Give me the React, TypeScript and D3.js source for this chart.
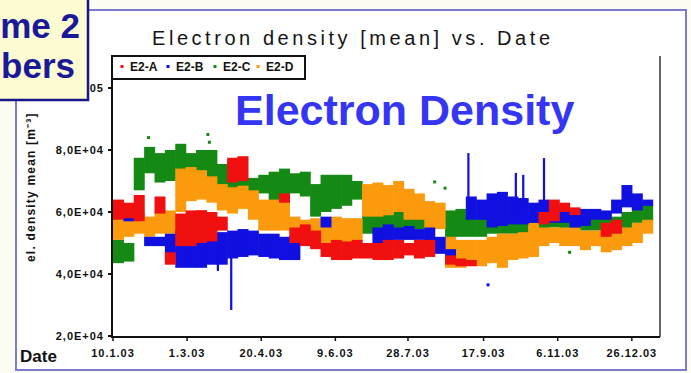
import React from "react";
import * as d3 from "d3";

// ---- data (electron density, thousands of m^-3 units shown as E+04) ----
const seriesNames = ["E2-A", "E2-B", "E2-C", "E2-D"];
const seriesColors = ["#f01010", "#1010e0", "#148a14", "#fb9a0c"];

const firstWeek = "2003-01-10";
const weekCount = 52;

// weekly min / max envelopes, one entry per week (null = no data)
const lowA = [57.5, 58, 57, null, 59.5, 43, 49, 49, 50, 50.5, 54, 69.5, 70, null, null, null, 63, 50, 49, 48, 45.5, 44.5, 44.5, 45, 45, 44.5, 44.5, 45, 46, 45, 45.5, null, 43, 42.5, 42.5, null, null, null, null, null, null, 56, 57, 60, 59, null, null, 52, 53, null, null, null];
const highA = [64, 63, 65.5, null, 65, 47, 59.5, 60.5, 60.6, 60, 58.5, 77.5, 78, null, null, null, 66, 55, 56, 54, 50, 51, 50.5, 51, 50, 50, 51, 51, 50, 51, 51, null, 46, 45, 44.5, null, null, null, null, null, null, 60, 64, 63, 61.5, null, null, 56.5, 57.5, null, null, null];

const lowB = [null, 57, null, 49, 49, 44.5, 42, 42, 42, 43, 43, 45, 45.5, 46, 45.5, 45, 44.5, 44.5, null, null, 55, null, null, null, null, 50, 50, 51, 51, 51, 47.5, 46.5, 45.5, null, 57.5, 57.5, 55, 55.5, 56, 56, 56.5, 57.5, 56.5, 56.5, 55, 55.5, 57.5, 57.5, 59.5, 61.5, 60.5, 62];
const highB = [null, 61, null, 52, 52, 53, 54, 53, 52, 53, 53.5, 54, 54.5, 54, 53, 53, 52, 52.5, null, null, 58.5, null, null, null, null, 55, 56, 55, 55.5, 54.5, 55, 52, 48, null, 65, 64, 66, 66.5, 65, 64.5, 63, 64, 62, 61, 61, 61, 61, 60.5, 64, 68.7, 66, 64];

const lowC = [43.5, 44, 67, 72.5, 69.5, 70, 71, 70, 71, 70, 66, 65.5, 66, 66, 66, 63, 64, 66, 65, 58.5, 60, 61, 62, 64, 53, 53, 53, 54, 54, 54.5, 55, 56, 51, 52, 52, 52, 53, 53, 53, 53, 53, 54, 55, 54, 54, 54, 54, 54, 53, 54, 56.5, 57];
const highC = [51, 50, 77.5, 81, 79, 80, 82, 79, 80, 80, 75.5, 76.5, 71, 71, 72, 73, 74, 72.5, 73, 69, 72, 72, 72, 70, 60, 60, 59, 60, 59, 59, 59, 60, 60.5, 61, 58.5, 59, 59, 59.5, 59, 59, 59.5, 58.5, 59, 57.5, 58, 60, 60.5, 60, 58.5, 60, 62, 62.5];

const lowD = [51, 52, 53, 52, 53, 53, 60, 63.5, 64, 63, 60.5, 59.5, 61, 57.5, 54, 54, 54, 53, 53, 48.5, 48.5, 50, 50, 50.5, 58.5, 58.5, 59, 60, 57.5, 57.5, 54, 54.5, 42, 42, 43.5, 42.5, 43.5, 42, 44.5, 45, 45.5, 49, 50, 49, 49, 47.7, 49, 47, 47.7, 49, 50, 53];
const highD = [58.5, 58.5, 59.5, 58.5, 60, 60.5, 74, 74.5, 73.5, 71.5, 69, 68, 68.5, 67, 64, 64, 63.5, 58.5, 57.5, 58, 58, 58.5, 58, 58, 69, 69.5, 68.7, 70, 67.5, 66, 63.5, 63, 52, 51, 51, 51, 52, 53, 53, 53.5, 56.5, 55, 55, 55, 55, 54, 54, 54, 53, 55, 56.5, 57.5];

// short excursions of single days: [series index, date, low, high]
const spikes: [number, string, number, number][] = [
  [1, "2003-03-30", 28.4, 50],
  [1, "2003-03-21", 41, 48],
  [1, "2003-09-06", 60, 79],
  [1, "2003-10-08", 60, 72.6],
  [1, "2003-10-13", 62, 72],
  [1, "2003-10-27", 62, 77.4],
];

// isolated readings: [series index, date, value]
const strays: [number, string, number][] = [
  [2, "2003-02-03", 84],
  [2, "2003-03-15", 85],
  [2, "2003-03-16", 82.5],
  [2, "2003-08-15", 69.7],
  [2, "2003-08-22", 67.7],
  [2, "2003-11-14", 47],
  [1, "2003-09-20", 36.5],
];

const yTicks = [20, 40, 60, 80, 100];
const yTickLabels = ["2,0E+04", "4,0E+04", "6,0E+04", "8,0E+04", "1,0E+05"];
const xTicks = ["2003-01-10", "2003-03-01", "2003-04-20", "2003-06-09", "2003-07-28", "2003-09-17", "2003-11-06", "2003-12-26"];
const xDomain = ["2003-01-10", "2004-01-14"];

const chartTitle = "Electron density [mean] vs. Date";
const overlayTitle = "Electron Density";
const yTitle = "el. density mean [m\u207B\u00B3]";
const xTitle = "Date";
const cornerLines = ["me 2", "bers"];

const lows = [lowA, lowB, lowC, lowD];
const highs = [highA, highB, highC, highD];
const drawOrder = [2, 3, 1, 0];

const parse = d3.timeParse("%Y-%m-%d");
const fmt = d3.timeFormat("%-d.%-m.%y");

export default function App() {
  const W = 691, H = 373;
  const plot = { left: 112, top: 56, right: 660, bottom: 337 };

  const x = d3.scaleTime()
    .domain(xDomain.map((s) => parse(s) as Date))
    .range([113, plot.right]);
  const y = d3.scaleLinear().domain([20, 100]).range([336, 88]);

  const start = parse(firstWeek) as Date;
  const weeks = d3.range(weekCount).map((i) => d3.timeDay.offset(start, 7 * i));

  const font = "'Liberation Sans', Arial, sans-serif";

  return (
    <div style={{ position: "absolute", left: 0, top: 0 }}>
      <svg width={W} height={H} style={{ display: "block" }} fontFamily={font}>
        <rect x={0} y={0} width={W} height={H} fill="#fcfcf2" />
        {/* slide frame */}
        <rect x={16} y={10} width={670} height={360} fill="#ffffff" stroke="#7b7bd0" strokeWidth={2} />

        <text x={351} y={45} textAnchor="middle" fontSize={20} fill="#151515" textLength={398} lengthAdjust="spacing">
          {chartTitle}
        </text>

        <defs>
          <clipPath id="plotClip">
            <rect x={plot.left} y={plot.top} width={plot.right - plot.left} height={plot.bottom - plot.top} />
          </clipPath>
        </defs>

        {/* weekly envelopes */}
        <g clipPath="url(#plotClip)">
          {drawOrder.map((s) => (
            <g key={s} fill={seriesColors[s]}>
              {weeks.map((w, i) => {
                const lo = lows[s][i];
                const hi = highs[s][i];
                if (lo == null || hi == null) return null;
                const x0 = x(w);
                const x1 = x(d3.timeDay.offset(w, 7));
                return (
                  <rect key={i} x={x0} y={y(hi)} width={x1 - x0 + 0.6} height={y(lo) - y(hi)} />
                );
              })}
            </g>
          ))}
          {spikes.map(([s, d, lo, hi], i) => {
            const dt = parse(d) as Date;
            const x0 = x(dt);
            const x1 = x(d3.timeHour.offset(dt, 36));
            return <rect key={"sp" + i} x={x0} y={y(hi)} width={x1 - x0} height={y(lo) - y(hi)} fill={seriesColors[s]} />;
          })}
          {strays.map(([s, d, v], i) => {
            const dt = parse(d) as Date;
            return <rect key={"st" + i} x={x(dt) - 1.5} y={y(v) - 1.5} width={3} height={3} fill={seriesColors[s]} />;
          })}
        </g>

        {/* axes */}
        <line x1={plot.right} y1={plot.top} x2={plot.right} y2={plot.bottom} stroke="#666" strokeWidth={2} />
        <line x1={plot.left} y1={plot.top} x2={plot.left} y2={plot.bottom + 1} stroke="#111" strokeWidth={2} />
        <line x1={plot.left} y1={plot.bottom} x2={plot.right} y2={plot.bottom} stroke="#111" strokeWidth={2} />

        {yTicks.map((v, i) => (
          <g key={"y" + v}>
            <line x1={plot.left - 4} x2={plot.left} y1={y(v)} y2={y(v)} stroke="#111" strokeWidth={2} />
            <text x={104} y={y(v) + 4} textAnchor="end" fontSize={11} fontWeight="bold" letterSpacing={1} fill="#111">
              {yTickLabels[i]}
            </text>
          </g>
        ))}
        {xTicks.map((s) => {
          const d = parse(s) as Date;
          return (
            <g key={s}>
              <line x1={x(d)} x2={x(d)} y1={plot.bottom} y2={plot.bottom + 4} stroke="#111" strokeWidth={1.5} />
              <text x={x(d)} y={357} textAnchor="middle" fontSize={11} fontWeight="bold" letterSpacing={1} fill="#111">
                {fmt(d)}
              </text>
            </g>
          );
        })}

        <text
          transform="translate(35,262) rotate(-90)"
          fontSize={12}
          fontWeight="bold"
          letterSpacing={1.2}
          fill="#111"
        >
          {yTitle}
        </text>
        <text x={20} y={362} fontSize={17} fontWeight="bold" fill="#111">
          {xTitle}
        </text>

        {/* legend */}
        <rect x={plot.left} y={56} width={193} height={23} fill="#fff" stroke="#111" strokeWidth={2} />
        {seriesNames.map((n, i) => {
          const mx = [122, 168, 215, 258][i];
          return (
            <g key={n}>
              <rect x={mx - 1.5} y={65} width={3} height={3} fill={seriesColors[i]} />
              <text x={mx + 8} y={71} fontSize={12} fontWeight="bold" fill="#111">
                {n}
              </text>
            </g>
          );
        })}

        <text x={235} y={125} fontSize={43} fontWeight="bold" fill="#3535f5">
          {overlayTitle}
        </text>

        {/* corner caption box */}
        <rect x={-2} y={-2} width={90} height={102} fill="#fdfbd2" stroke="#17178a" strokeWidth={2.5} />
        <text x={80} y={38} textAnchor="end" fontSize={35} fontWeight="bold" fill="#1a1a99">
          {cornerLines[0]}
        </text>
        <text x={75} y={78} textAnchor="end" fontSize={35} fontWeight="bold" fill="#1a1a99">
          {cornerLines[1]}
        </text>
      </svg>
    </div>
  );
}
